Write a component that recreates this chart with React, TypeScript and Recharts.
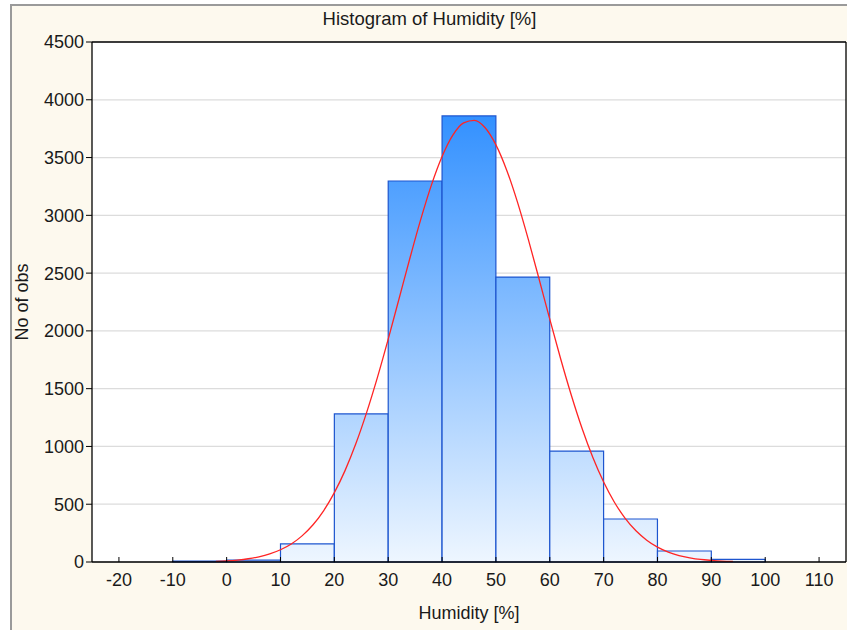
import {
  ComposedChart,
  Bar,
  Line,
  XAxis,
  YAxis,
  CartesianGrid,
  ReferenceLine,
  Label,
} from "recharts";

const binMids = [-5, 5, 15, 25, 35, 45, 55, 65, 75, 85, 95];
const binCounts = [8, 17, 156, 1281, 3297, 3860, 2466, 960, 372, 95, 23];

const curveX = [
  -2, 0, 2, 4, 6, 8, 10, 12, 14, 16, 18, 20, 22, 24, 26, 28, 30, 32, 34, 36, 38,
  40, 42, 44, 46, 48, 50, 52, 54, 56, 58, 60, 62, 64, 66, 68, 70, 72, 74, 76, 78,
  80, 82, 84, 86, 88, 90, 92, 94,
];
const curveY = [
  6, 10, 17, 28, 45, 70, 106, 156, 226, 320, 443, 600, 793, 1025, 1295, 1598,
  1929, 2276, 2624, 2958, 3259, 3509, 3694, 3800, 3822, 3758, 3610, 3391, 3114,
  2794, 2451, 2101, 1761, 1443, 1155, 904, 692, 517, 378, 270, 189, 129, 86, 56,
  36, 22, 14, 8, 5,
];

const xTicks = [-20, -10, 0, 10, 20, 30, 40, 50, 60, 70, 80, 90, 100, 110];
const yTicks = [0, 500, 1000, 1500, 2000, 2500, 3000, 3500, 4000, 4500];

const histData = binMids.map((mid, i) => ({ mid, count: binCounts[i] }));
const curveData = curveX.map((x, i) => ({ x, y: curveY[i] }));

const W = 847;
const H = 630;
const TOP = 42;
const LEFT = 92;
const RIGHT = 1;
const BOTTOM = 68;
const PLOT_W = W - LEFT - RIGHT;
const FONT = "'Liberation Sans', Arial, sans-serif";
const tickStyle = { fontSize: 18, fill: "#1a1a1a", fontFamily: FONT };

const YLabel = ({ viewBox }: any) => {
  const cy = viewBox.y + viewBox.height / 2;
  return (
    <text
      x={22}
      y={cy}
      transform={`rotate(-90 22 ${cy})`}
      textAnchor="middle"
      dominantBaseline="central"
      fontSize={18}
      fontFamily={FONT}
      fill="#1a1a1a"
    >
      No of obs
    </text>
  );
};

export default function App() {
  return (
    <div
      style={{
        position: "absolute",
        left: 0,
        top: 0,
        width: W,
        height: H,
        background: "#fff",
      }}
    >
      <div
        style={{
          position: "absolute",
          left: 10,
          top: 4,
          right: 0,
          bottom: 0,
          background: "#fdf9ee",
          borderLeft: "2px solid #9a9a9a",
          borderTop: "2px solid #9a9a9a",
        }}
      />
      <div
        style={{
          position: "absolute",
          left: 12,
          right: 0,
          top: 8,
          textAlign: "center",
          fontFamily: FONT,
          fontSize: 18.5,
          color: "#1a1a1a",
        }}
      >
        Histogram of Humidity [%]
      </div>
      <div style={{ position: "absolute", left: 0, top: 0 }}>
        <ComposedChart
          width={W}
          height={H}
          data={histData}
          margin={{ top: TOP, right: RIGHT, bottom: 0, left: 0 }}
          barCategoryGap="0%"
          barGap={0}
        >
          <defs>
            <linearGradient
              id="histGrad"
              gradientUnits="userSpaceOnUse"
              x1="0"
              y1={TOP}
              x2="0"
              y2={H - BOTTOM}
            >
              <stop offset="0%" stopColor="#1480ff" />
              <stop offset="100%" stopColor="#eef6ff" />
            </linearGradient>
          </defs>
          <CartesianGrid
            xAxisId="bins"
            vertical={false}
            stroke="#dcdcdc"
            strokeWidth={1.2}
            fill="#ffffff"
            fillOpacity={1}
          />
          <XAxis
            xAxisId="bins"
            dataKey="mid"
            type="number"
            domain={[-25, 115]}
            ticks={xTicks}
            interval={0}
            height={BOTTOM}
            tickSize={-5}
            tickMargin={16}
            tick={tickStyle}
            axisLine={{ stroke: "#000", strokeWidth: 1.3 }}
            tickLine={{ stroke: "#000" }}
          >
            <Label
              value="Humidity [%]"
              position="insideBottom"
              offset={11}
              style={{ fontSize: 18, fill: "#1a1a1a", fontFamily: FONT }}
            />
          </XAxis>
          <XAxis
            xAxisId="top"
            orientation="top"
            type="number"
            domain={[-25, 115]}
            ticks={xTicks}
            interval={0}
            mirror
            tick={false}
            tickSize={4}
            axisLine={{ stroke: "#000", strokeWidth: 1.3 }}
            tickLine={{ stroke: "#000" }}
          />
          <XAxis
            xAxisId="curve"
            dataKey="x"
            type="number"
            domain={[-25, 115]}
            hide
          />
          <YAxis
            type="number"
            domain={[0, 4500]}
            ticks={yTicks}
            interval={0}
            width={LEFT}
            tickSize={6}
            tickMargin={2}
            tick={tickStyle}
            axisLine={{ stroke: "#000", strokeWidth: 1.3 }}
            tickLine={{ stroke: "#000" }}
          >
            <Label content={<YLabel />} />
          </YAxis>
          <Bar
            xAxisId="bins"
            dataKey="count"
            barSize={PLOT_W / 14 - 0.05}
            fill="url(#histGrad)"
            stroke="#1d55cf"
            strokeWidth={1.2}
            isAnimationActive={false}
          />
          <Line
            xAxisId="curve"
            data={curveData}
            dataKey="y"
            type="monotone"
            stroke="#ff2424"
            strokeWidth={1.3}
            dot={false}
            activeDot={false}
            isAnimationActive={false}
          />
          <ReferenceLine
            xAxisId="bins"
            x={115}
            stroke="#000"
            strokeWidth={1.3}
          />
        </ComposedChart>
      </div>
    </div>
  );
}
